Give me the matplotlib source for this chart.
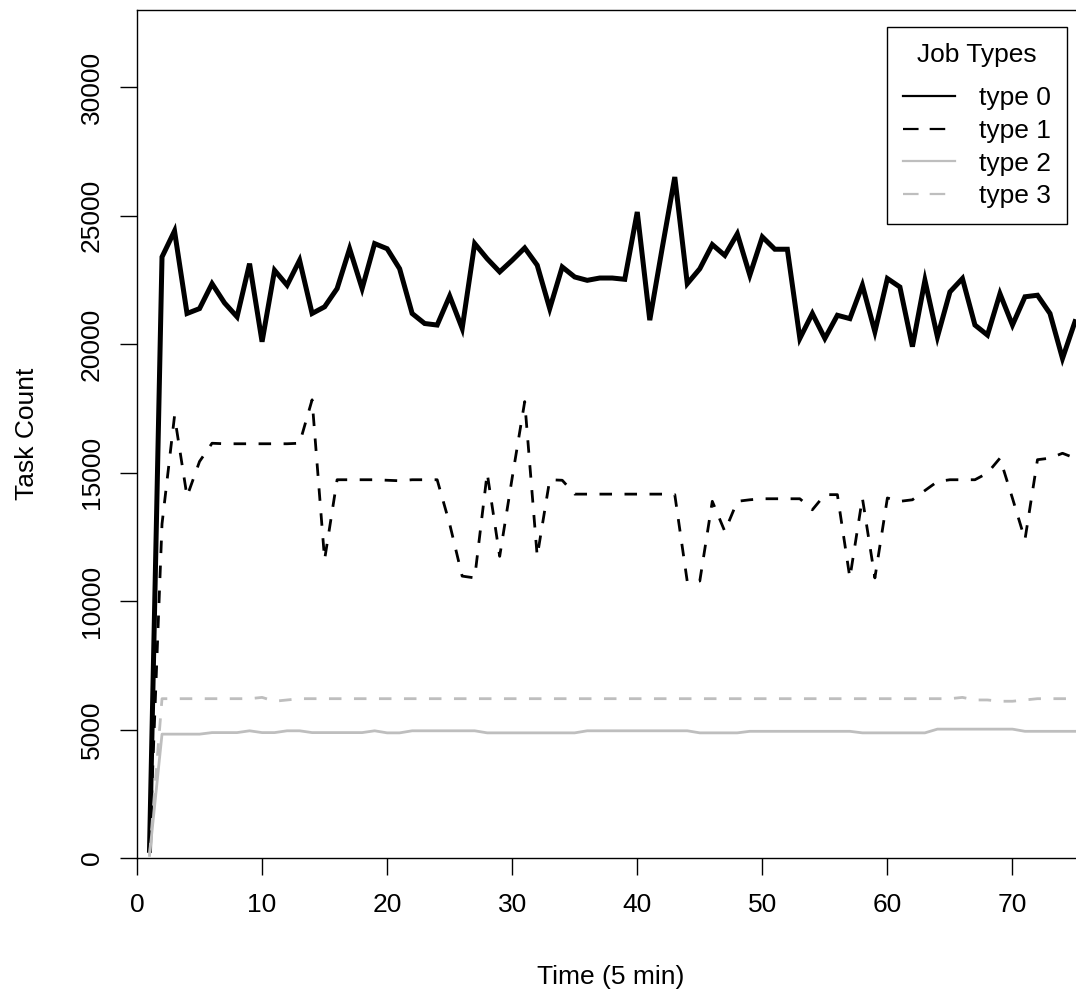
import matplotlib
matplotlib.use("Agg")
import matplotlib.pyplot as plt
from matplotlib.lines import Line2D

plt.rcParams['font.family'] = ['Liberation Sans', 'DejaVu Sans']

# time steps (5 min each)
t = list(range(1, 76))

type0 = [300, 23390, 24400, 21190, 21380, 22350, 21600, 21060, 23130, 20090,
         22870, 22290, 23260, 21190, 21450, 22160, 23710, 22160, 23910, 23710,
         22930, 21190, 20800, 20740, 21870, 20610, 23910, 23320, 22810, 23260,
         23740, 23070, 21380, 23000, 22610, 22480, 22570, 22570, 22520, 25140,
         20930, 23750, 26500, 22350, 22930, 23870, 23450, 24290, 22680, 24170,
         23690, 23690, 20220, 21190, 20220, 21120, 20990, 22290, 20480, 22550,
         22220, 19900, 22480, 20280, 22030, 22550, 20740, 20350, 21960, 20740,
         21840, 21900, 21190, 19440, 20870]

type1 = [200, 13000, 17200, 14070, 15430, 16140, 16120, 16120, 16120, 16120,
         16120, 16120, 16140, 17830, 11610, 14720, 14720, 14720, 14720, 14700,
         14680, 14720, 14720, 14720, 13000, 10970, 10900, 14980, 11740, 14800,
         17760, 11740, 14720, 14700, 14160, 14160, 14160, 14160, 14160, 14160,
         14160, 14160, 14140, 10750, 10780, 13880, 12710, 13880, 13940, 13980,
         13980, 13980, 13980, 13550, 14140, 14140, 10900, 14010, 10900, 14010,
         13880, 13940, 14300, 14650, 14720, 14720, 14720, 14980, 15560, 14000,
         12390, 15500, 15560, 15750, 15560]

type2 = [100, 4820, 4820, 4820, 4820, 4880, 4880, 4880, 4950, 4880,
         4880, 4950, 4950, 4880, 4880, 4880, 4880, 4880, 4950, 4870,
         4870, 4950, 4950, 4950, 4950, 4950, 4950, 4870, 4870, 4870,
         4870, 4870, 4870, 4870, 4870, 4950, 4950, 4950, 4950, 4950,
         4950, 4950, 4950, 4950, 4870, 4870, 4870, 4870, 4930, 4930,
         4930, 4930, 4930, 4930, 4930, 4930, 4930, 4870, 4870, 4870,
         4870, 4870, 4870, 5015, 5015, 5015, 5015, 5015, 5015, 5015,
         4930, 4930, 4930, 4930, 4930]

type3 = [100, 6200, 6200, 6200, 6200, 6200, 6200, 6200, 6200, 6250,
         6100, 6150, 6200, 6200, 6200, 6200, 6200, 6200, 6200, 6200,
         6200, 6200, 6200, 6200, 6200, 6200, 6200, 6200, 6200, 6200,
         6200, 6200, 6200, 6200, 6200, 6200, 6200, 6200, 6200, 6200,
         6200, 6200, 6200, 6200, 6200, 6200, 6200, 6200, 6200, 6200,
         6200, 6200, 6200, 6200, 6200, 6200, 6200, 6200, 6200, 6200,
         6200, 6200, 6200, 6200, 6200, 6250, 6150, 6150, 6100, 6100,
         6150, 6200, 6200, 6200, 6200]

labels = ["type 0", "type 1", "type 2", "type 3"]
grey = "#bebebe"

fig = plt.figure(figsize=(10.76, 9.91), dpi=100)
# plot region is cut off on the right, like the original
ax = fig.add_axes([137 / 1076, 133 / 991, 948 / 1076, 848 / 991])

ax.plot(t, type0, color="black", lw=3.6, solid_joinstyle="miter")
ax.plot(t, type1, color="black", lw=2.0, dashes=(4.5, 4.5))
ax.plot(t, type2, color=grey, lw=2.0)
ax.plot(t, type3, color=grey, lw=2.0, dashes=(4.5, 4.5))

ax.set_xlim(0, 75.8)
ax.set_ylim(0, 33000)
ax.set_xticks(range(0, 80, 10))
ax.set_yticks(range(0, 35000, 5000))
ax.tick_params(axis="both", length=12, width=1.0, labelsize=19, color="black")
ax.tick_params(axis="x", pad=13)
ax.tick_params(axis="y", pad=12, labelrotation=90)
for lab in ax.get_yticklabels():
    lab.set_va("center")
for s in ax.spines.values():
    s.set_linewidth(1.0)

ax.set_xlabel("Time (5 min)", fontsize=19)
ax.set_ylabel("Task Count", fontsize=19)
ax.xaxis.set_label_coords(0.5, -0.126)
ax.yaxis.set_label_coords(-0.103, 0.5)

handles = [
    Line2D([], [], color="black", lw=1.6),
    Line2D([], [], color="black", lw=1.6, dashes=(7, 5)),
    Line2D([], [], color=grey, lw=1.6),
    Line2D([], [], color=grey, lw=1.6, dashes=(7, 5)),
]
leg = ax.legend(handles, labels, title="Job Types", fontsize=19, title_fontsize=19,
                loc="upper right", bbox_to_anchor=(1067 / 1076, 1 - 27 / 991),
                bbox_transform=fig.transFigure, borderaxespad=0,
                handlelength=2.0, handletextpad=0.9, labelspacing=0.33,
                borderpad=0.6, fancybox=False, framealpha=1)
leg._legend_box.sep = 14
leg.get_frame().set_edgecolor("black")
leg.get_frame().set_linewidth(1.0)

fig.savefig("out.png", dpi=100)
